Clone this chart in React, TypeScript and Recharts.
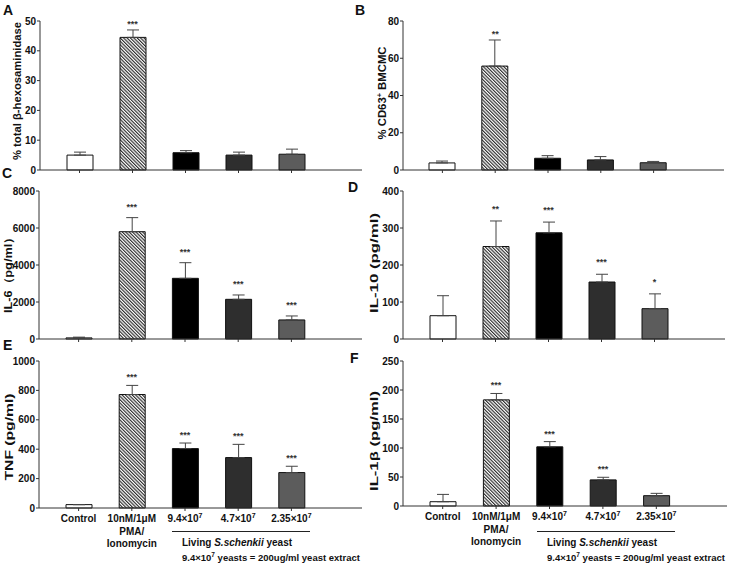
import React from 'react';
import { ComposedChart, Bar, Line, XAxis, YAxis, ErrorBar, LabelList, Cell } from 'recharts';

const FONT = '"Liberation Sans", Arial, Helvetica, sans-serif';

// groups on the x axis
const groups = ['Control', 'PMA/Ionomycin', '9.4x10^7', '4.7x10^7', '2.35x10^7'];
const groupLines = [['Control'], ['10nM/1μM', 'PMA/', 'Ionomycin'], ['9.4×10^7'], ['4.7×10^7'], ['2.35×10^7']];

// A: % total beta-hexosaminidase
const hexMean = [5.0, 44.5, 5.8, 5.0, 5.3];
const hexErr = [1.0, 2.5, 0.7, 1.0, 1.7];
const hexSig = ['', '***', '', '', ''];
const hexTicks = [0, 10, 20, 30, 40, 50];

// B: % CD63+ BMCMC
const cd63Mean = [3.8, 55.8, 6.3, 5.4, 3.9];
const cd63Err = [1.0, 14.0, 1.4, 1.8, 0.7];
const cd63Sig = ['', '**', '', '', ''];
const cd63Ticks = [0, 20, 40, 60, 80];

// C: IL-6
const il6Mean = [60, 5800, 3280, 2145, 1030];
const il6Err = [40, 760, 845, 235, 215];
const il6Sig = ['', '***', '***', '***', '***'];
const il6Ticks = [0, 2000, 4000, 6000, 8000];

// D: IL-10
const il10Mean = [63, 250, 287, 154, 82];
const il10Err = [54, 69, 29, 21, 40];
const il10Sig = ['', '**', '***', '***', '*'];
const il10Ticks = [0, 100, 200, 300, 400];

// E: TNF
const tnfMean = [23, 772, 404, 343, 241];
const tnfErr = [0, 62, 38, 90, 43];
const tnfSig = ['', '***', '***', '***', '***'];
const tnfTicks = [0, 200, 400, 600, 800, 1000];

// F: IL-1beta
const il1bMean = [7.4, 183, 102, 45, 17.8];
const il1bErr = [12.6, 11, 9, 4.5, 4];
const il1bSig = ['', '***', '***', '***', ''];
const il1bTicks = [0, 50, 100, 150, 200, 250];

const FILLS = ['#ffffff', 'url(#hatch)', '#000000', '#2e2e2e', '#5c5c5c'];

const GroupTick = (props: any) => {
  const { x, y, index } = props;
  const lines = groupLines[index] || [];
  return (
    <g>
      {lines.map((ln, k) => {
        const [base, sup] = ln.split('^');
        return (
          <text key={k} x={x} y={y + 9 + k * 12.5} textAnchor="middle" fontFamily={FONT} fontWeight="bold" fontSize={10} fill="#111">
            {base}
            {sup && <tspan dy={-4} fontSize={7}>{sup}</tspan>}
          </text>
        );
      })}
    </g>
  );
};

const NoTick = () => <g />;

interface PanelProps {
  left: number;
  top: number;
  height: number;
  plot: { l: number; t: number; r: number; b: number };
  mean: number[];
  err: number[];
  sig: string[];
  ticks: number[];
  starGap: number;
  labels?: boolean;
}

function Panel({ left, top, height, plot, mean, err, sig, ticks, starGap, labels }: PanelProps) {
  const width = 365;
  const data = groups.map((name, i) => ({
    name,
    mean: mean[i],
    err: [0, err[i]],
    top: mean[i] + err[i],
    sig: sig[i],
  }));
  return (
    <div style={{ position: 'absolute', left, top }}>
      <ComposedChart
        width={width}
        height={height}
        data={data}
        margin={{ top: plot.t - top, right: left + width - plot.r, bottom: 0, left: 0 }}
      >
        <XAxis
          dataKey="name"
          height={height - (plot.b - top)}
          padding={{ left: 13, right: 44 }}
          axisLine={{ stroke: '#333' }}
          tickLine={{ stroke: '#333' }}
          tickSize={3}
          interval={0}
          tick={labels ? GroupTick : NoTick}
        />
        <YAxis
          width={plot.l - left}
          domain={[0, ticks[ticks.length - 1]]}
          ticks={ticks}
          interval={0}
          axisLine={{ stroke: '#333' }}
          tickLine={{ stroke: '#333' }}
          tickSize={3}
          tickMargin={1}
          tick={{ fontSize: 10, fontWeight: 'bold', fill: '#111', fontFamily: FONT }}
        />
        <Bar dataKey="mean" barSize={26} stroke="#111" strokeWidth={1} isAnimationActive={false}>
          {data.map((d, i) => (
            <Cell key={i} fill={FILLS[i]} />
          ))}
          <ErrorBar dataKey="err" width={6} stroke="#444" strokeWidth={1} direction="y" />
        </Bar>
        <Line dataKey="top" stroke="none" dot={false} activeDot={false} isAnimationActive={false} legendType="none">
          <LabelList dataKey="sig" position="top" offset={starGap} fill="#333" fontSize={9} fontWeight="bold" fontFamily={FONT} />
        </Line>
      </ComposedChart>
    </div>
  );
}

const yLabel = (x: number, y: number, len: number, size: number, content: React.ReactNode) => (
  <text
    transform={`translate(${x},${y}) rotate(-90)`}
    textAnchor="middle"
    fontFamily={FONT}
    fontWeight="bold"
    fontSize={size}
    fill="#111"
    textLength={len}
    lengthAdjust="spacingAndGlyphs"
  >
    {content}
  </text>
);

const letter = (x: number, y: number, s: string) => (
  <text x={x} y={y} fontFamily={FONT} fontWeight="bold" fontSize={14} fill="#111">
    {s}
  </text>
);

const yeastNote = (dx: number) => (
  <g fontFamily={FONT} fontWeight="bold" fontSize={10} fill="#111">
    <line x1={dx + 172} x2={dx + 310} y1={531.5} y2={531.5} stroke="#222" strokeWidth={1} />
    <text x={dx + 237} y={546} textAnchor="middle">
      Living <tspan fontStyle="italic">S.schenkii</tspan> yeast
    </text>
    <text x={dx + 182} y={561} fontSize={9.5}>
      9.4×10<tspan dy={-4} fontSize={6.5}>7</tspan>
      <tspan dy={4}> yeasts = 200ug/ml yeast extract</tspan>
    </text>
  </g>
);

export default function App() {
  return (
    <div style={{ position: 'absolute', left: 0, top: 0, width: 730, height: 564, background: '#fff', overflow: 'hidden' }}>
      <svg width={0} height={0} style={{ position: 'absolute' }}>
        <defs>
          <pattern id="hatch" width={2.4} height={2.4} patternUnits="userSpaceOnUse" patternTransform="rotate(-45)">
            <rect width={2.4} height={2.4} fill="#fff" />
            <line x1={0.6} y1={0} x2={0.6} y2={2.4} stroke="#222" strokeWidth={1.1} />
          </pattern>
        </defs>
      </svg>

      <Panel left={0} top={0} height={180} plot={{ l: 40, t: 21, r: 362, b: 170 }} mean={hexMean} err={hexErr} sig={hexSig} ticks={hexTicks} starGap={3} />
      <Panel left={365} top={0} height={180} plot={{ l: 403, t: 21, r: 724, b: 170 }} mean={cd63Mean} err={cd63Err} sig={cd63Sig} ticks={cd63Ticks} starGap={3} />
      <Panel left={0} top={175} height={174} plot={{ l: 39, t: 191, r: 362, b: 339 }} mean={il6Mean} err={il6Err} sig={il6Sig} ticks={il6Ticks} starGap={8} />
      <Panel left={365} top={175} height={174} plot={{ l: 403, t: 191, r: 725, b: 339 }} mean={il10Mean} err={il10Err} sig={il10Sig} ticks={il10Ticks} starGap={9} />
      <Panel left={0} top={345} height={219} plot={{ l: 39, t: 361, r: 362, b: 508 }} mean={tnfMean} err={tnfErr} sig={tnfSig} ticks={tnfTicks} starGap={5} labels />
      <Panel left={365} top={345} height={219} plot={{ l: 403, t: 361, r: 727, b: 506 }} mean={il1bMean} err={il1bErr} sig={il1bSig} ticks={il1bTicks} starGap={5} labels />

      <svg width={730} height={564} style={{ position: 'absolute', left: 0, top: 0, pointerEvents: 'none' }}>
        {letter(3, 15, 'A')}
        {letter(355, 15, 'B')}
        {letter(2, 178, 'C')}
        {letter(348, 192, 'D')}
        {letter(3, 350, 'E')}
        {letter(350, 363, 'F')}

        {yLabel(21, 91, 138, 11, '% total β-hexosaminidase')}
        {yLabel(386, 93, 93, 11, <>% CD63<tspan dy={-4} fontSize={7}>+</tspan><tspan dy={4}> BMCMC</tspan></>)}
        {yLabel(12, 272, 82, 11, 'IL-6（pg/ml）')}
        {yLabel(378, 263, 100, 11.5, 'IL-10 (pg/ml)')}
        {yLabel(13, 437, 87, 11.5, 'TNF (pg/ml)')}
        {yLabel(378, 441, 100, 11.5, 'IL-1β (pg/ml)')}

        {yeastNote(0)}
        {yeastNote(365)}
      </svg>
    </div>
  );
}
